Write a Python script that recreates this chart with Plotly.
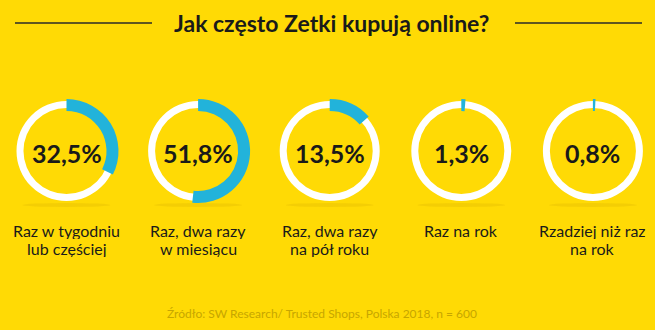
import plotly.graph_objects as go

# --- data ---------------------------------------------------------------
title_text = "Jak często Zetki kupują online?"
categories = [
    "Raz w tygodniu<br>lub częściej",
    "Raz, dwa razy<br>w miesiącu",
    "Raz, dwa razy<br>na pół roku",
    "Raz na rok",
    "Rzadziej niż raz<br>na rok",
]
shares = [32.5, 51.8, 13.5, 1.3, 0.8]  # percent of respondents
source_text = "Źródło: SW Research/ Trusted Shops, Polska 2018, n = 600"

# --- styling ------------------------------------------------------------
W, H = 655, 330
BG = "#FFDA05"
BLUE = "#22B3DA"
RING = "#FFFFFF"
INK = "#1A1A1A"
SOURCE_INK = "#C7A600"
FONT = "Lato"

first_cx, step_x, cy = 66.5, 131.6, 151.0
ring_outer, ring_inner = 50.0, 43.0     # white track
arc_outer, arc_inner = 52.0, 40.0       # blue share arc
label_top, label_leading = 230.0, 18.0  # centre of first label line, line spacing


def dom(cx, cy, r):
    """Square pie domain (paper units) for a circle of radius r px at (cx, cy) px."""
    return dict(x=[(cx - r) / W, (cx + r) / W],
                y=[1 - (cy + r) / H, 1 - (cy - r) / H])


fig = go.Figure()
annotations = []

for i, (cat, val) in enumerate(zip(categories, shares)):
    cx = first_cx + i * step_x
    # faint shadow beneath the ring
    fig.add_shape(type="circle", xref="paper", yref="paper",
                  x0=(cx - 44) / W, x1=(cx + 44) / W,
                  y0=1 - (cy + 56) / H, y1=1 - (cy + 52) / H,
                  fillcolor="rgba(150,110,0,0.10)", line=dict(width=0), layer="below")
    # white track
    fig.add_trace(go.Pie(
        values=[100], labels=["track"], marker=dict(colors=[RING], line=dict(width=0)),
        hole=ring_inner / ring_outer, domain=dom(cx, cy, ring_outer),
        textinfo="none", hoverinfo="skip", sort=False, showlegend=False,
    ))
    # share arc, starting at 12 o'clock, clockwise
    fig.add_trace(go.Pie(
        values=[val, 100 - val], labels=[cat, "rest"],
        marker=dict(colors=[BLUE, "rgba(0,0,0,0)"], line=dict(width=0)),
        hole=arc_inner / arc_outer, domain=dom(cx, cy, arc_outer),
        direction="clockwise", rotation=0, sort=False,
        textinfo="none", hoverinfo="skip", showlegend=False,
    ))
    # value in the middle
    annotations.append(dict(
        x=cx / W, y=1 - 153 / H, xref="paper", yref="paper",
        text=f"{val:.1f}".replace(".", ",") + "%", showarrow=False,
        font=dict(family=FONT, size=25, color=INK, weight="bold"),
        xanchor="center", yanchor="middle",
    ))
    # category label, one annotation per line for tighter leading
    for j, line in enumerate(cat.split("<br>")):
        annotations.append(dict(
            x=cx / W, y=1 - (label_top + j * label_leading) / H,
            xref="paper", yref="paper", text=line, showarrow=False,
            font=dict(family=FONT, size=16, color=INK),
            xanchor="center", yanchor="middle", height=label_leading, valign="middle",
        ))

# title
annotations.append(dict(
    x=331 / W, y=1 - 23 / H, xref="paper", yref="paper", text=title_text,
    showarrow=False, xanchor="center", yanchor="middle",
    font=dict(family=FONT, size=23, color=INK, weight="bold"),
))
# source
annotations.append(dict(
    x=322 / W, y=1 - 313 / H, xref="paper", yref="paper", text=source_text,
    showarrow=False, xanchor="center", yanchor="middle",
    font=dict(family=FONT, size=12, color=SOURCE_INK),
))

for x0, x1 in [(15, 152), (515, 642)]:
    fig.add_shape(type="line", xref="paper", yref="paper",
                  x0=x0 / W, x1=x1 / W, y0=1 - 23 / H, y1=1 - 23 / H,
                  line=dict(color="#2A2A2A", width=1.5))

fig.update_layout(
    width=W, height=H, margin=dict(l=0, r=0, t=0, b=0),
    paper_bgcolor=BG, plot_bgcolor=BG, showlegend=False,
    annotations=annotations,
)

fig.write_html("out.html")
